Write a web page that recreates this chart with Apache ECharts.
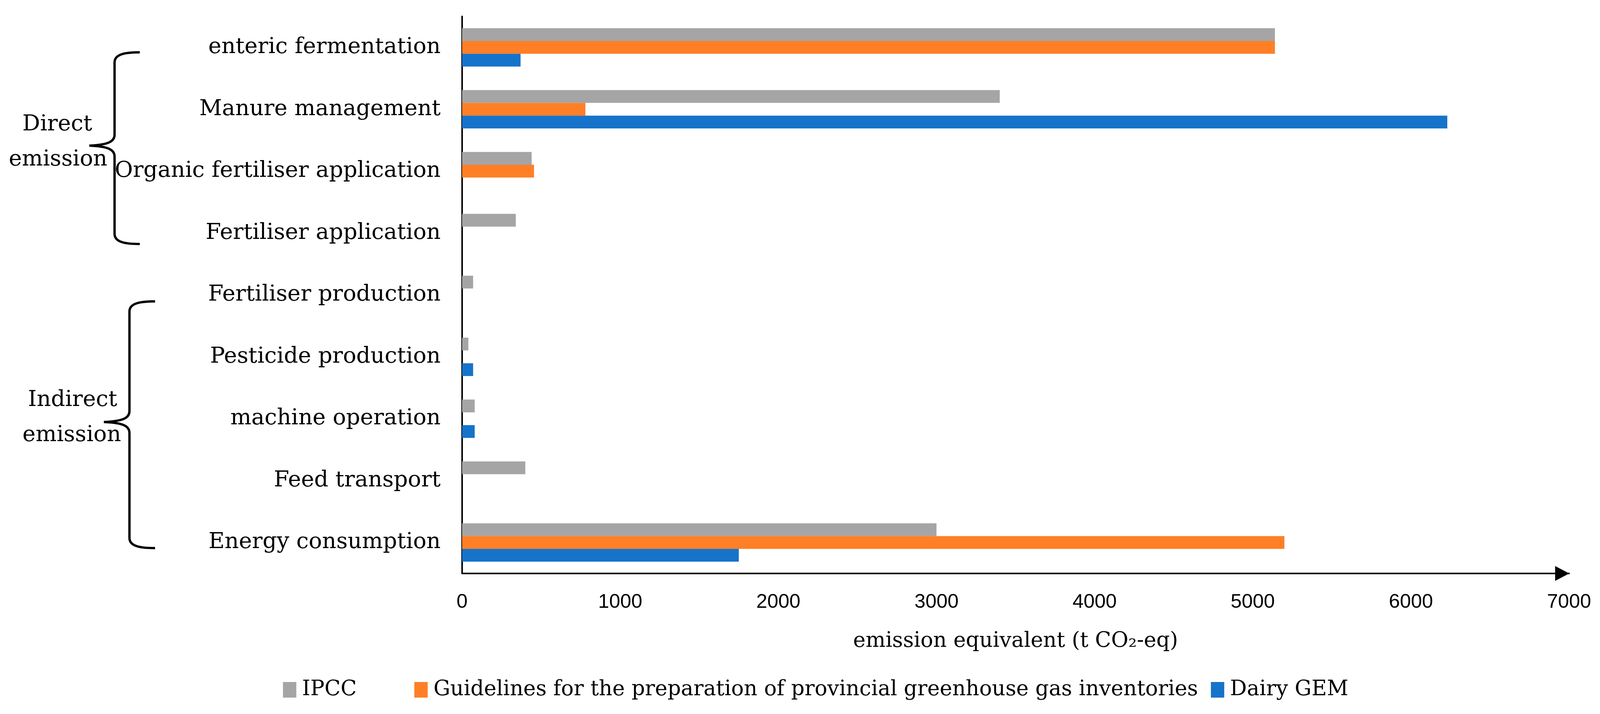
<!DOCTYPE html>
<html>
<head>
<meta charset="utf-8">
<script src="https://cdn.jsdelivr.net/npm/echarts@6/dist/echarts.min.js"></script>
<style>
html,body{margin:0;padding:0;background:#fff;overflow:hidden;}
#chart{width:100vw;height:1829px;}
</style>
</head>
<body>
<div id="chart"></div>
<script>
const categories = ['enteric fermentation', 'Manure management', 'Organic fertiliser application', 'Fertiliser application', 'Fertiliser production', 'Pesticide production', 'machine operation', 'Feed transport', 'Energy consumption'];
const seriesNames = ['IPCC', 'Guidelines for the preparation of provincial greenhouse gas inventories', 'Dairy GEM'];
const ipcc = [5140, 3400, 440, 340, 70, 40, 80, 400, 3000];
const guidelines = [5140, 780, 455, null, null, null, null, null, 5200];
const dairyGEM = [370, 6230, null, null, null, 70, 80, null, 1750];
const xTicks = [0, 1000, 2000, 3000, 4000, 5000, 6000, 7000];
const colors = ['#A5A5A5', '#FF7F27', '#1673CA'];

const serif = 'DejaVu Serif';
// layout is designed for a 4190 px wide page; horizontal positions follow the real viewport width
const sx = Math.min(1, (window.innerWidth || 4190) / 4190);
const X = function (v) { return v * sx; };
const F = function (v) { return Math.round(v * sx * 10) / 10; };

const chart = echarts.init(document.getElementById('chart'), null, {renderer: 'canvas'});

function legendAt(name, left) {
  return {
    data: [name], left: X(left), top: 1740, padding: 0,
    itemWidth: X(35), itemHeight: 40, icon: 'rect', selectedMode: false,
    textStyle: {fontFamily: serif, fontSize: F(55), color: '#000', padding: [0, 0, 0, X(10)]}
  };
}

function brace(endX, spineX, tipX, topY, tipY, botY) {
  const st = {stroke: '#000', lineWidth: 6, fill: null};
  endX = X(endX); spineX = X(spineX); tipX = X(tipX);
  const d = endX - spineX;
  const k = X(15);
  return [
    {type: 'bezierCurve', shape: {x1: endX, y1: topY, cpx1: spineX + d * 0.45, cpy1: topY, cpx2: spineX, cpy2: topY + 4, x2: spineX, y2: topY + 26}, style: st},
    {type: 'line', shape: {x1: spineX, y1: topY + 26, x2: spineX, y2: tipY - 28}, style: st},
    {type: 'bezierCurve', shape: {x1: spineX, y1: tipY - 28, cpx1: spineX, cpy1: tipY - 11, cpx2: spineX - k, cpy2: tipY - 2, x2: tipX, y2: tipY}, style: st},
    {type: 'bezierCurve', shape: {x1: tipX, y1: tipY, cpx1: spineX - k, cpy1: tipY + 2, cpx2: spineX, cpy2: tipY + 11, x2: spineX, y2: tipY + 28}, style: st},
    {type: 'line', shape: {x1: spineX, y1: tipY + 28, x2: spineX, y2: botY - 26}, style: st},
    {type: 'bezierCurve', shape: {x1: spineX, y1: botY - 26, cpx1: spineX, cpy1: botY - 4, cpx2: spineX + d * 0.45, cpy2: botY, x2: endX, y2: botY}, style: st}
  ];
}

function label(text, x, y) {
  return {type: 'text', x: X(x), y: y, style: {text: text, fontFamily: serif, fontSize: F(58), fill: '#000', textAlign: 'center', textVerticalAlign: 'middle'}};
}

const option = {
  backgroundColor: '#fff',
  animation: false,
  color: colors,
  grid: {left: X(1210), right: X(81), top: 42, bottom: 360, containLabel: false},
  legend: [legendAt(seriesNames[0], 741), legendAt(seriesNames[1], 1085), legendAt(seriesNames[2], 3171)],
  xAxis: {
    type: 'value', min: xTicks[0], max: xTicks[xTicks.length - 1], interval: 1000,
    axisLine: {show: true, lineStyle: {color: '#000', width: 4}, symbol: ['none', 'triangle'], symbolSize: [38, X(37)], symbolOffset: [0, -X(18)]},
    axisTick: {show: false},
    splitLine: {show: false},
    axisLabel: {fontFamily: 'Liberation Sans', fontSize: F(52), color: '#000', margin: 48, formatter: function (v) { return String(v); }},
    name: 'emission equivalent (t CO₂-eq)',
    nameLocation: 'middle', nameGap: 147,
    nameTextStyle: {fontFamily: serif, fontSize: F(55), color: '#000'}
  },
  yAxis: {
    type: 'category', data: categories, inverse: true,
    axisLine: {show: true, lineStyle: {color: '#000', width: 4}},
    axisTick: {show: false},
    axisLabel: {fontFamily: serif, fontSize: F(58), color: '#000', margin: X(56)}
  },
  series: [
    {name: seriesNames[0], type: 'bar', data: ipcc, barGap: '0%', barCategoryGap: '38%'},
    {name: seriesNames[1], type: 'bar', data: guidelines, barGap: '0%', barCategoryGap: '38%'},
    {name: seriesNames[2], type: 'bar', data: dairyGEM, barGap: '0%', barCategoryGap: '38%'}
  ],
  graphic: [].concat(
    brace(366, 300, 234, 134, 373, 625),
    brace(406, 339, 272, 772, 1081, 1404),
    [label('Direct', 150, 319), label('emission', 152, 409), label('Indirect', 190, 1025), label('emission', 188, 1115)]
  )
};
chart.setOption(option);
</script>
</body>
</html>
